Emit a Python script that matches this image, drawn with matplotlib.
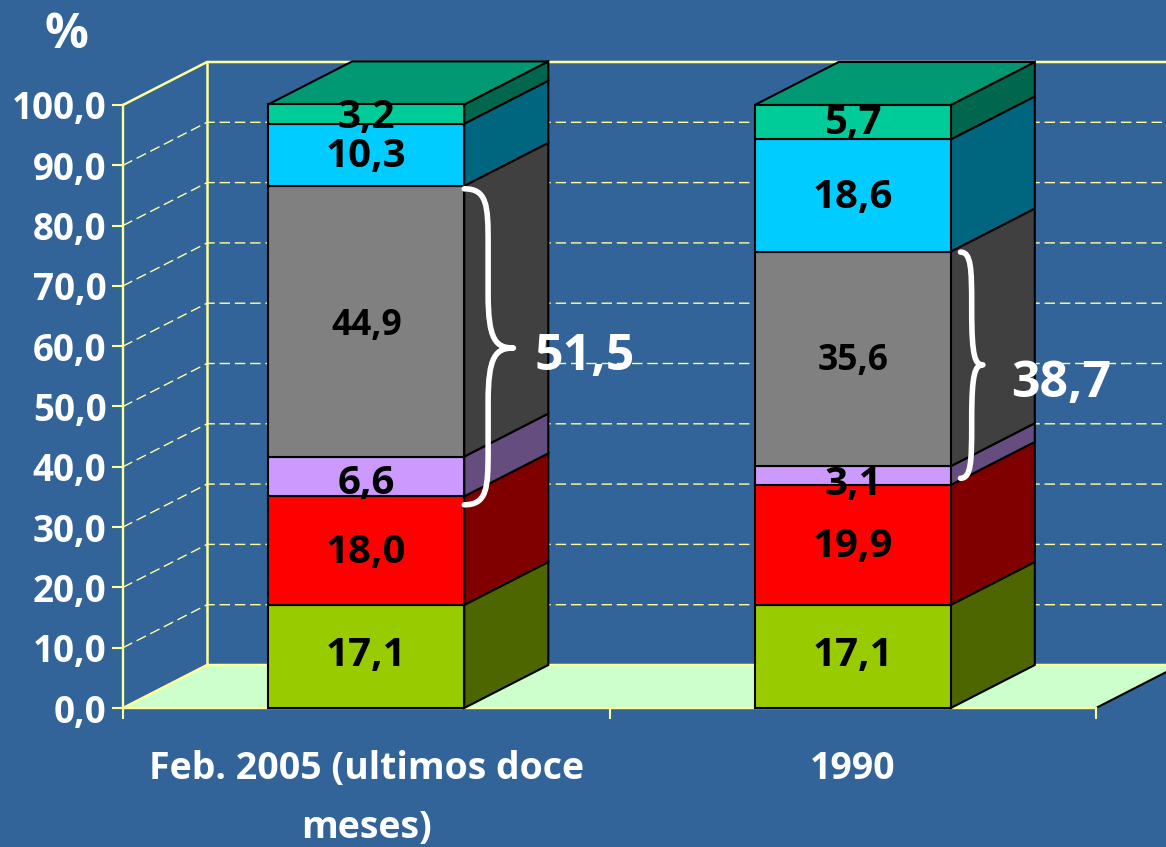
import numpy as np
from matplotlib import pyplot as plt
from matplotlib.patches import PathPatch
from matplotlib.path import Path

# chart values
categories = ["Feb. 2005 (ultimos doce\nmeses)", "1990"]
seg_2005 = [17.1, 18.0, 6.6, 44.9, 10.3, 3.2]
seg_1990 = [17.1, 19.9, 3.1, 35.6, 18.6, 5.7]
y_ticks = [0, 10, 20, 30, 40, 50, 60, 70, 80, 90, 100]
y_tick_labels = ["0,0", "10,0", "20,0", "30,0", "40,0", "50,0", "60,0", "70,0", "80,0", "90,0", "100,0"]
brace_labels = ["51,5", "38,7"]

# colours, bottom segment first
front_colors = ["#99CC00", "#FF0000", "#CC99FF", "#808080", "#00CCFF", "#00CC99"]
side_colors = ["#4D6600", "#800000", "#664D80", "#404040", "#006680", "#00664D"]
top_color = "#009973"
bg = "#336499"
axis_yellow = "#FFFF99"

BAR_W = 0.403
DX = 0.1727  # 3d depth, in x units
DY = 7.13    # 3d depth, in % units

plt.rcParams["font.family"] = ["Open Sans", "DejaVu Sans"]
plt.rcParams["font.weight"] = "bold"

fig = plt.figure(figsize=(11.66, 8.47), dpi=100, facecolor=bg)
ax = fig.add_axes([0, 0, 1, 1], facecolor=bg)
ax.set_xlim(-123 / 486.5, (1166 - 123) / 486.5)
ax.set_ylim((708 - 847) / 6.03, 708 / 6.03)

# axes lines
for s in ["top", "right"]:
    ax.spines[s].set_visible(False)
for s in ["left", "bottom"]:
    ax.spines[s].set_position(("data", 0))
    ax.spines[s].set_color(axis_yellow)
    ax.spines[s].set_linewidth(1.7)
    ax.spines[s].set_zorder(2.5)
ax.spines["left"].set_bounds(0, 100)
ax.spines["bottom"].set_bounds(0, 2)

ax.set_yticks(y_ticks)
ax.set_yticklabels(y_tick_labels, fontsize=26.5, color="white")
ax.tick_params(axis="y", length=8, width=1.5, color=axis_yellow, pad=4)
ax.set_xticks([0, 1, 2])
ax.set_xticklabels([])
ax.tick_params(axis="x", which="major", length=8, width=1.5, color=axis_yellow)
ax.set_xticks([0.5, 1.5], minor=True)
ax.set_xticklabels(categories, minor=True, fontsize=27, color="white", linespacing=1.75)
ax.tick_params(axis="x", which="minor", length=0, pad=30)

# floor
ax.fill([0, DX, 2 + DX, 2], [0, DY, DY, 0], color="#CCFFCC", lw=0, zorder=1)
ax.plot([2, 2 + DX], [0, DY], color="black", lw=1.5, zorder=1.1)

# walls and grid
ax.plot([DX, DX], [DY, 100 + DY], color=axis_yellow, lw=1.8, zorder=1.5)
ax.plot([0, DX, 2 + DX], [100, 100 + DY, 100 + DY], color=axis_yellow, lw=1.8, zorder=1.5)
ax.plot([0, DX, 2 + DX], [0, DY, DY], color=axis_yellow, lw=1.8, zorder=1.2)
for t in y_ticks[1:-1]:
    ax.plot([0, DX, 2 + DX], [t, t + DY, t + DY], color=axis_yellow, lw=1,
            dashes=(7.5, 3.5), zorder=1.5)

# stacked bars
label_shift = {(1, 2): -1.2, (0, 2): -0.8, (0, 3): -0.5, (0, 5): -0.3, (0, 0): 0.5, (1, 0): 0.5}
for i, segs in enumerate([seg_2005, seg_1990]):
    x = i + 0.5
    r = x + BAR_W / 2
    bottoms = np.concatenate([[0], np.cumsum(segs)[:-1]])
    for j, (b, h) in enumerate(zip(bottoms, segs)):
        ax.bar(x, h, BAR_W, bottom=b, color=front_colors[j], edgecolor="black", lw=1.5, zorder=4)
        ax.fill([r, r + DX, r + DX, r], [b, b + DY, b + h + DY, b + h],
                facecolor=side_colors[j], edgecolor="black", lw=1.5, zorder=3)
        size = 25.5 if j == 3 else 29
        ax.text(x, b + h / 2 - 0.3 + label_shift.get((i, j), 0), f"{segs[j]:.1f}".replace(".", ","),
                ha="center", va="center", fontsize=size, color="black", zorder=6)
    top = b + h
    ax.fill([r - BAR_W, r, r + DX, r - BAR_W + DX], [top, top, top + DY, top + DY],
            facecolor=top_color, edgecolor="black", lw=1.5, zorder=3)


def brace(x0, xs, xt, y_top, y_bot, y_tip):
    # curly bracket opening to the left
    c = (xs - x0) * 0.95
    ry = 9
    verts = [
        (x0, y_top), (x0 + c, y_top), (xs, y_top - ry * 0.3), (xs, y_top - ry),
        (xs, y_tip + ry), (xs, y_tip + ry * 0.15), (xs + (xt - xs) * 0.3, y_tip), (xt, y_tip),
        (xs + (xt - xs) * 0.3, y_tip), (xs, y_tip - ry * 0.15), (xs, y_tip - ry),
        (xs, y_bot + ry), (xs, y_bot + ry * 0.3), (x0 + c, y_bot), (x0, y_bot),
    ]
    codes = [Path.MOVETO, Path.CURVE4, Path.CURVE4, Path.CURVE4, Path.LINETO,
             Path.CURVE4, Path.CURVE4, Path.CURVE4, Path.CURVE4, Path.CURVE4, Path.CURVE4,
             Path.LINETO, Path.CURVE4, Path.CURVE4, Path.CURVE4]
    ax.add_patch(PathPatch(Path(verts, codes), fill=False, edgecolor="white", lw=4,
                           capstyle="round", joinstyle="round", zorder=7))


r1 = 0.5 + BAR_W / 2
r2 = 1.5 + BAR_W / 2
brace(r1, r1 + 0.049, r1 + 0.101, 86.1, 33.7, 59.7)
brace(r2 + 0.02, r2 + 0.043, r2 + 0.066, 75.6, 38.1, 56.9)
ax.text(0.948, 58.2, brace_labels[0], ha="center", va="center", fontsize=36, color="white", zorder=8)
ax.text(1.928, 53.7, brace_labels[1], ha="center", va="center", fontsize=36, color="white", zorder=8)

ax.text(-0.117, 111.6, "%", ha="center", va="center", fontsize=35, color="white", zorder=8)

fig.savefig("out.png", dpi=100, facecolor=bg)
